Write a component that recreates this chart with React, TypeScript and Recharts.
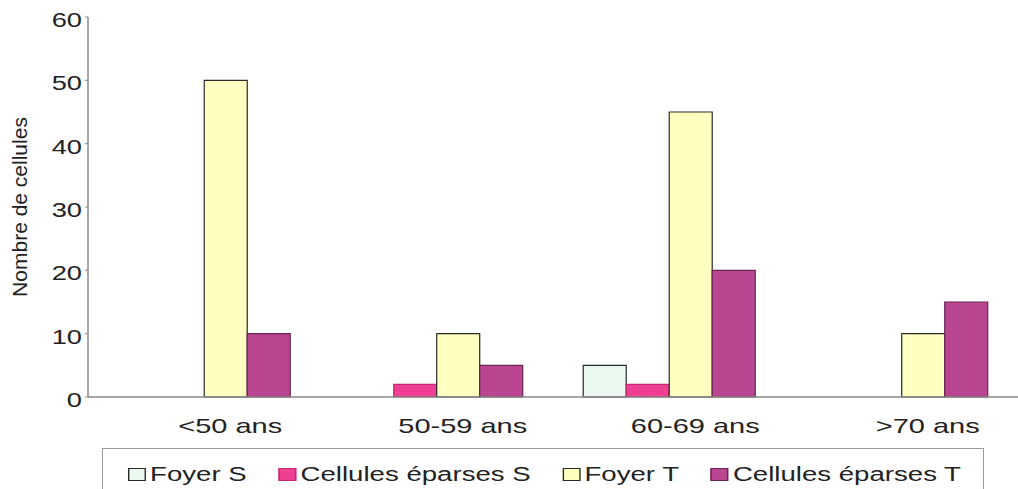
import { BarChart, Bar, XAxis, YAxis, Legend, Label } from 'recharts';

const categories = ['<50 ans', '50-59 ans', '60-69 ans', '>70 ans'];
const foyerS = [0, 0, 5, 0];
const cellulesS = [0, 2, 2, 0];
const foyerT = [50, 10, 45, 10];
const cellulesT = [10, 5, 20, 15];
const yTicks = [0, 10, 20, 30, 40, 50, 60];

const series = [
  { key: 'foyerS', name: 'Foyer S', fill: '#eaf8ef', stroke: '#2a2a2a' },
  { key: 'cellulesS', name: 'Cellules éparses S', fill: '#ee3f93', stroke: '#c02a70' },
  { key: 'foyerT', name: 'Foyer T', fill: '#ffffc2', stroke: '#2a2a2a' },
  { key: 'cellulesT', name: 'Cellules éparses T', fill: '#ba4692', stroke: '#6a2550' },
];

const data = categories.map((name, i) => ({
  name,
  foyerS: foyerS[i],
  cellulesS: cellulesS[i],
  foyerT: foyerT[i],
  cellulesT: cellulesT[i],
}));

const font = 'Liberation Sans, Arial, sans-serif';

// the scanned original has its text stretched sideways
function XTick({ x, y, payload }: any) {
  return (
    <text
      transform={`translate(${x + 26},${y + 28}) scale(1.38,1)`}
      textAnchor="middle"
      fontSize={21}
      fill="#222"
      fontFamily={font}
    >
      {payload.value}
    </text>
  );
}

function YTick({ x, y, payload }: any) {
  return (
    <text
      transform={`translate(${x - 1},${y + 10}) scale(1.3,1)`}
      textAnchor="end"
      fontSize={21}
      fill="#222"
      fontFamily={font}
    >
      {payload.value}
    </text>
  );
}

function LegendBox() {
  return (
    <div
      style={{
        borderTop: '1px solid #9a9a9a',
        borderLeft: '1px solid #9a9a9a',
        borderRight: '1px solid #9a9a9a',
        height: 52,
        paddingTop: 14,
        paddingLeft: 25,
        fontFamily: font,
        fontSize: 20,
        color: '#222',
        boxSizing: 'border-box',
      }}
    >
      <div style={{ display: 'flex', alignItems: 'center', transform: 'scaleX(1.38)', transformOrigin: 'left', whiteSpace: 'nowrap' }}>
        {series.map(s => (
          <span key={s.key} style={{ display: 'inline-flex', alignItems: 'center', marginRight: 23 }}>
            <span
              style={{
                display: 'inline-block',
                width: 11,
                height: 11,
                background: s.fill,
                border: `1px solid ${s.stroke}`,
                marginRight: 3,
              }}
            />
            {s.name}
          </span>
        ))}
      </div>
    </div>
  );
}

export default function App() {
  return (
    <div style={{ position: 'absolute', left: 0, top: 0, width: 1018, height: 489, overflow: 'hidden', background: '#fff' }}>
      <BarChart
        width={1018}
        height={489}
        data={data}
        margin={{ top: 17, right: 0, left: 28, bottom: 0 }}
        barCategoryGap="13%"
        barGap={0}
      >
        <XAxis
          dataKey="name"
          tick={<XTick />}
          tickLine={false}
          axisLine={{ stroke: '#8a8a8a', strokeWidth: 1.5 }}
          height={40}
        />
        <YAxis
          domain={[0, 60]}
          ticks={yTicks}
          width={60}
          tick={<YTick />}
          tickLine={{ stroke: '#8a8a8a' }}
          tickSize={3}
          axisLine={{ stroke: '#8a8a8a', strokeWidth: 1.5 }}
        >
          <Label
            value="Nombre de cellules"
            angle={-90}
            position="insideLeft"
            offset={-8}
            style={{ textAnchor: 'middle', fontSize: 21, fill: '#222', fontFamily: font }}
          />
        </YAxis>
        <Legend
          content={<LegendBox />}
          wrapperStyle={{ position: 'absolute', left: 102, top: 448, width: 882, height: 52 }}
        />
        {series.map(s => (
          <Bar
            key={s.key}
            dataKey={s.key}
            name={s.name}
            fill={s.fill}
            stroke={s.stroke}
            strokeWidth={1.2}
            isAnimationActive={false}
          />
        ))}
      </BarChart>
    </div>
  );
}
